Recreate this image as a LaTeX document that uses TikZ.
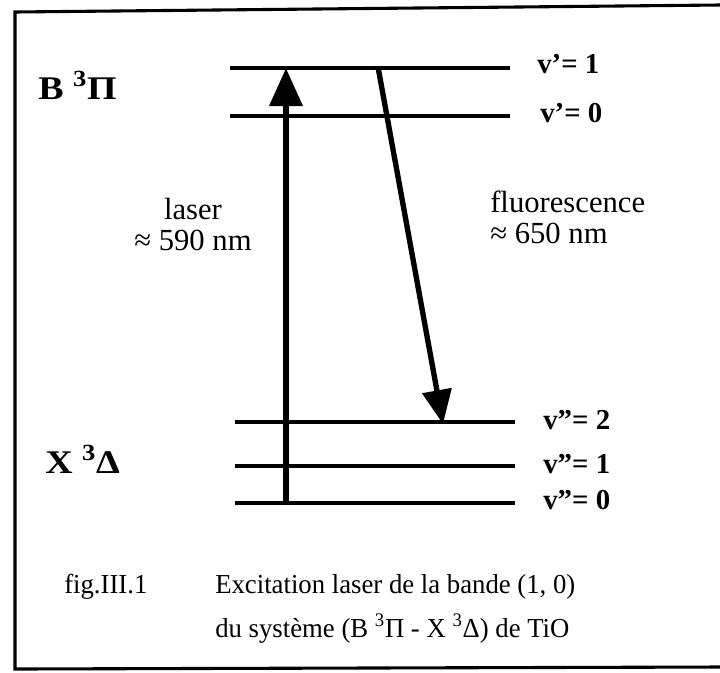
\documentclass[tikz,border=0pt]{standalone}
\usepackage{fontspec}
\setmainfont{Liberation Serif}
\newfontfamily\statefont{Liberation Serif}[FakeStretch=1.15]
\newfontfamily\capfont{Liberation Serif}[FakeStretch=0.975]
\usetikzlibrary{arrows.meta,positioning}

\begin{document}
\begin{tikzpicture}[
  x=0.025cm, y=-0.025cm,
  font=\fontsize{21.8}{21.5}\selectfont,
  frame/.style={line width=2.2pt},
  level/.style={line width=2.2pt},
  lab/.style={inner sep=0pt, anchor=base west},
  vlab/.style={lab, font=\fontsize{20.5}{24}\selectfont\bfseries},
  state/.style={lab, font=\statefont\fontsize{23.5}{26}\selectfont\bfseries},
  captxt/.style={lab, font=\capfont\fontsize{19.5}{24}\selectfont},
  laser/.style={line width=4.8pt, -{Triangle[length=9.5mm,width=8mm]}},
  fluo/.style={line width=3.8pt, -{Triangle[length=8.5mm,width=7.2mm]}}
]
\useasboundingbox (0,0) rectangle (720,672);
\draw[frame] (720,5) -- (15,12) -- (15,669) -- (720,667);

% vibrational levels
\coordinate (B1L) at (230,68);  \coordinate (B1R) at (510,68);
\coordinate (B0L) at (230,116); \coordinate (B0R) at (510,116);
\coordinate (X2L) at (235,422); \coordinate (X2R) at (515,422);
\coordinate (X1L) at (235,466); \coordinate (X1R) at (515,466);
\coordinate (X0L) at (235,503); \coordinate (X0R) at (515,503);
\foreach \lv in {B1,B0,X2,X1,X0}
  \draw[level] (\lv L) -- (\lv R);

\node[vlab] (nB1) at (537,73)  {v’= 1};
\node[vlab] (nB0) at (540,122) {v’= 0};
\node[vlab] (nX2) at (543,429) {v”= 2};
\node[vlab] (nX1) at (543,473) {v”= 1};
\node[vlab] (nX0) at (543,509) {v”= 0};

\node[state] (stB) at (38,99)  {B \textsuperscript{3}Π};
\node[state] (stX) at (45,473) {X \textsuperscript{3}Δ};

% transitions
\coordinate (las0) at (286,505);
\coordinate (las1) at (286,68);
\coordinate (flu0) at (378,67);
\coordinate (flu1) at (443,424);
\draw[laser] (las0) -- (las1);
\draw[fluo] (flu0) -- (flu1);

\node[align=center, inner sep=0pt, anchor=base] (tlas) at (193,250) {laser\\≈ 590 nm};
\node[align=left, inner sep=0pt, anchor=base west] (tflu) at (490,243) {fluorescence\\≈ 650 nm};

\node[captxt] (fig) at (64,593) {fig.III.1};
\node[captxt] (cap1) at (215,593) {Excitation laser de la bande (1, 0)};
\node[captxt] (cap2) at (215,637) {du système (B \textsuperscript{3}Π - X \textsuperscript{3}Δ) de TiO};
\end{tikzpicture}
\end{document}
